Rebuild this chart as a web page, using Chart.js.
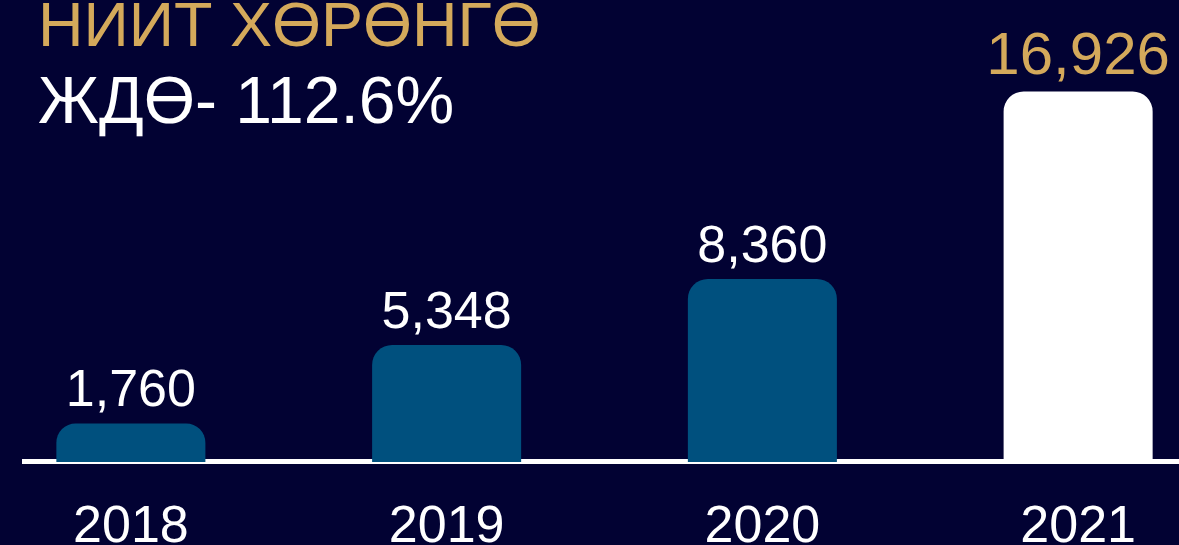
<!DOCTYPE html>
<html>
<head>
<meta charset="utf-8">
<script src="https://cdn.jsdelivr.net/npm/chart.js@4"></script>
<style>
  html, body { margin: 0; padding: 0; background: #020233; overflow: hidden; }
  #wrap { position: absolute; left: -27px; top: 0; width: 1263px; height: 545px; }
</style>
</head>
<body>
<div id="wrap"><canvas id="chart" width="1263" height="545"></canvas></div>
<script>
const years = ['2018', '2019', '2020', '2021']
const totals = [1760, 5348, 8360, 16926]
const barColors = ['#00507e', '#00507e', '#00507e', '#ffffff']
const title = 'НИИТ ХӨРӨНГӨ'
const subtitle = 'ЖДӨ- 112.6%'

const FONT = '"Liberation Sans", Arial, "DejaVu Sans", sans-serif'
const SHIFT = 27 // canvas is shifted left so category centers line up

const decor = {
  id: 'decor',
  beforeDatasetsDraw(chart) {
    const ctx = chart.ctx
    const y = chart.scales.y.getPixelForValue(0)
    ctx.save()
    ctx.strokeStyle = '#ffffff'
    ctx.lineWidth = 5
    ctx.beginPath()
    ctx.moveTo(22 + SHIFT, y - 0.5)
    ctx.lineTo(chart.width, y - 0.5)
    ctx.stroke()
    ctx.restore()
  },
  afterDatasetsDraw(chart) {
    const ctx = chart.ctx
    const meta = chart.getDatasetMeta(0)
    ctx.save()
    ctx.textAlign = 'center'
    ctx.textBaseline = 'alphabetic'
    meta.data.forEach((bar, i) => {
      const last = i === totals.length - 1
      ctx.fillStyle = last ? '#d4a95b' : '#ffffff'
      ctx.font = (last ? '60px ' : '52px ') + FONT
      ctx.fillText(totals[i].toLocaleString('en-US'), bar.x, bar.y - 17)
      ctx.fillStyle = '#ffffff'
      ctx.font = '52px ' + FONT
      ctx.fillText(years[i], bar.x, 542)
    })
    ctx.textAlign = 'left'
    ctx.font = '63px ' + FONT
    ctx.fillStyle = '#d4a95b'
    ctx.fillText(title, 38 + SHIFT, 46)
    ctx.font = '66px ' + FONT
    ctx.fillStyle = '#ffffff'
    ctx.fillText(subtitle, 38 + SHIFT, 123)
    ctx.restore()
  }
}

new Chart(document.getElementById('chart'), {
  type: 'bar',
  data: {
    labels: years,
    datasets: [{
      data: totals,
      backgroundColor: barColors,
      borderRadius: 20,
      borderSkipped: 'bottom',
      barPercentage: 0.472,
      categoryPercentage: 1
    }]
  },
  options: {
    responsive: false,
    animation: false,
    layout: { padding: { top: 0, bottom: 83, left: 0, right: 0 } },
    plugins: { legend: { display: false }, tooltip: { enabled: false } },
    scales: {
      x: { display: false },
      y: { display: false, min: 0, max: 21100 }
    }
  },
  plugins: [decor]
})
</script>
</body>
</html>
